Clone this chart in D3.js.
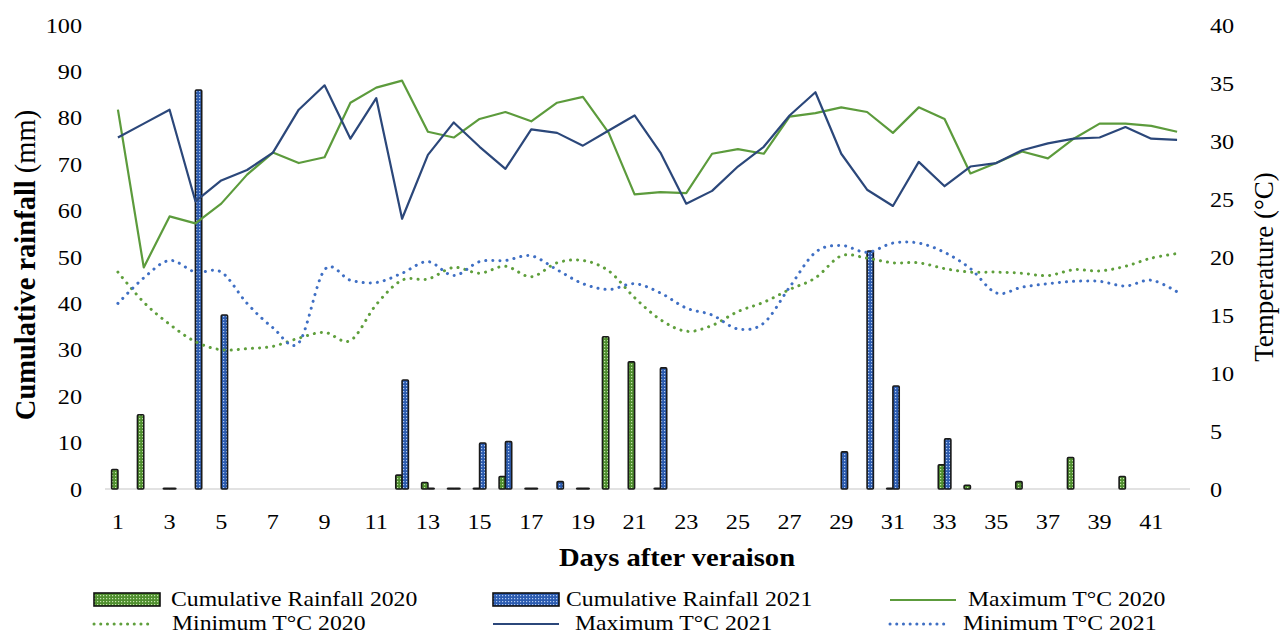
<!DOCTYPE html>
<html>
<head>
<meta charset="utf-8">
<script src="https://cdn.jsdelivr.net/npm/d3@7"></script>
<style>
  body { margin: 0; background: #fff; }
  svg text { font-family: "Liberation Serif", "Times New Roman", serif; fill: #000; }
  .wide-s { transform-box: fill-box; transform-origin: left center; transform: scaleX(1.1); }
  .wide-e { transform-box: fill-box; transform-origin: right center; transform: scaleX(1.1); }
  .wide-m { transform-box: fill-box; transform-origin: center; transform: scaleX(1.1); }
  .wide-l { transform-box: fill-box; transform-origin: left center; transform: scaleX(1.13); }
</style>
</head>
<body>
<svg id="chart" width="1283" height="635"></svg>
<script>
// Days after veraison
const days = [1,2,3,4,5,6,7,8,9,10,11,12,13,14,15,16,17,18,19,20,21,
              22,23,24,25,26,27,28,29,30,31,32,33,34,35,36,37,38,39,40,41,42];
const dayTicks = [1,3,5,7,9,11,13,15,17,19,21,23,25,27,29,31,33,35,37,39,41];

// Daily rainfall (mm); null = no record
const rain2020 = [4.2,16,0,null,null,null,null,null,null,null,null,3.0,1.4,0,0,2.7,0,null,0,32.8,27.4,
                  0,null,null,null,null,null,null,null,null,0,null,5.2,0.8,null,1.6,null,6.8,null,2.7,null,null];
const rain2021 = [null,null,0,86,37.5,null,null,null,null,null,null,23.5,0,0,9.9,10.2,0,1.6,0,null,null,
                  26.1,null,null,null,null,null,null,8.0,51.3,22.2,null,10.8,null,null,null,null,null,null,null,null,null];

// Daily temperatures (°C)
const tmax2020 = [32.7,19.1,23.5,22.9,24.6,27.1,29.0,28.1,28.6,33.3,34.6,35.2,30.8,30.3,31.9,32.5,31.7,33.3,33.8,30.7,25.4,
                  25.6,25.5,28.9,29.3,28.9,32.1,32.4,32.9,32.5,30.7,32.9,31.9,27.2,28.1,29.1,28.5,30.2,31.5,31.5,31.3,30.8];
const tmin2020 = [18.7,16.1,14.2,12.7,12.0,12.1,12.3,13.0,13.5,12.8,15.9,18.0,18.1,19.1,18.6,19.2,18.3,19.5,19.7,18.8,16.5,
                  14.6,13.6,14.1,15.3,16.1,17.2,18.2,20.1,19.9,19.5,19.5,19.0,18.7,18.7,18.6,18.4,18.9,18.8,19.2,19.9,20.3];
const tmax2021 = [30.3,31.5,32.7,24.8,26.6,27.5,29.0,32.7,34.8,30.2,33.7,23.3,28.8,31.6,29.5,27.6,31.0,30.7,29.6,30.9,32.2,
                  29.0,24.6,25.7,27.8,29.5,32.2,34.2,28.9,25.8,24.4,28.2,26.1,27.8,28.1,29.2,29.8,30.2,30.3,31.2,30.2,30.1];
const tmin2021 = [16.0,18.2,19.7,18.7,18.7,16.0,13.9,12.6,18.9,18.0,17.8,18.6,19.6,18.4,19.6,19.7,20.1,18.9,17.7,17.2,17.7,
                  16.9,15.6,15.0,13.8,14.3,17.4,20.4,21.0,20.4,21.2,21.2,20.4,19.0,16.9,17.4,17.7,17.9,17.9,17.5,18.0,17.0];

const rainTicks = [0,10,20,30,40,50,60,70,80,90,100];
const tempTicks = [0,5,10,15,20,25,30,35,40];

const svg = d3.select("#chart");

// Plot frame
const plotLeft = 105, plotRight = 1190, plotTop = 25, plotBottom = 489;

const x = d3.scaleBand().domain(days).range([plotLeft, plotRight]).padding(0);
const xs = d3.scaleBand().domain(["2020", "2021"]).range([0, x.bandwidth()])
  .paddingInner(0).paddingOuter(1.05);
const yR = d3.scaleLinear().domain([0, 100]).range([plotBottom, plotTop]);
const yT = d3.scaleLinear().domain([0, 40]).range([plotBottom, plotTop]);
const cx = d => x(d) + x.bandwidth() / 2;

// Dotted-grid fills for the rainfall bars
const defs = svg.append("defs");
function dotPattern(id, base, dot) {
  const p = defs.append("pattern").attr("id", id).attr("patternUnits", "userSpaceOnUse")
    .attr("width", 3).attr("height", 3);
  p.append("rect").attr("width", 3).attr("height", 3).attr("fill", base);
  p.append("rect").attr("x", 1).attr("y", 1).attr("width", 1.2).attr("height", 1.2).attr("fill", dot);
}
dotPattern("rain20", "#4f8f2f", "#c5e6ad");
dotPattern("rain21", "#2c5cb0", "#b3cbf2");

const green = "#5c9b3c", greenDot = "#5f9f3c", navy = "#2b477a", blueDot = "#3f6fc4";

// Category axis line
svg.append("line").attr("x1", plotLeft).attr("x2", plotRight).attr("y1", plotBottom).attr("y2", plotBottom)
  .attr("stroke", "#d9d9d9").attr("stroke-width", 1.5);

// Left axis (rainfall)
const gL = svg.append("g").attr("transform", `translate(90,0)`)
  .call(d3.axisLeft(yR).tickValues(rainTicks).tickSize(0).tickPadding(8));
gL.select(".domain").remove();
gL.selectAll("text").attr("font-size", 22).attr("class", "wide-e")
  .style("font-family", '"Liberation Serif", serif');

// Right axis (temperature)
const gR = svg.append("g").attr("transform", `translate(1200,0)`)
  .call(d3.axisRight(yT).tickValues(tempTicks).tickSize(0).tickPadding(10));
gR.select(".domain").remove();
gR.selectAll("text").attr("font-size", 22).attr("class", "wide-s")
  .style("font-family", '"Liberation Serif", serif');

// Bottom axis (days)
const gB = svg.append("g").attr("transform", `translate(0,${plotBottom})`)
  .call(d3.axisBottom(x).tickValues(dayTicks).tickSize(0).tickPadding(24));
gB.select(".domain").remove();
gB.selectAll("text").attr("font-size", 22).attr("class", "wide-m")
  .style("font-family", '"Liberation Serif", serif');

// Rainfall bars (zero readings show as a flat outlined stub on the axis)
const barSeries = [
  { key: "2020", values: rain2020, fill: "url(#rain20)" },
  { key: "2021", values: rain2021, fill: "url(#rain21)" }
];
barSeries.forEach(s => {
  svg.append("g").selectAll("rect")
    .data(days.map((d, i) => ({ day: d, v: s.values[i] })).filter(o => o.v !== null))
    .join("rect")
    .attr("x", o => x(o.day) + xs(s.key))
    .attr("y", o => Math.min(yR(o.v), yR(0) - 0.6))
    .attr("width", xs.bandwidth())
    .attr("height", o => Math.max(yR(0) - yR(o.v), 0.6))
    .attr("fill", s.fill)
    .attr("stroke", "#1a1a1a")
    .attr("stroke-width", 1.6)
    .attr("rx", 1);
});

// Temperature lines
const straight = d3.line().x((v, i) => cx(days[i])).y(v => yT(v));
const smooth = d3.line().x((v, i) => cx(days[i])).y(v => yT(v)).curve(d3.curveCatmullRom.alpha(0));

function dotted(sel, color) {
  return sel.attr("fill", "none").attr("stroke", color).attr("stroke-width", 3)
    .attr("stroke-linecap", "round").attr("stroke-dasharray", "0.1 7");
}
dotted(svg.append("path").attr("d", smooth(tmin2020)), greenDot);
dotted(svg.append("path").attr("d", smooth(tmin2021)), blueDot);
svg.append("path").attr("d", straight(tmax2020)).attr("fill", "none")
  .attr("stroke", green).attr("stroke-width", 2.2).attr("stroke-linejoin", "round");
svg.append("path").attr("d", straight(tmax2021)).attr("fill", "none")
  .attr("stroke", navy).attr("stroke-width", 2.2).attr("stroke-linejoin", "round");

// Axis titles
svg.append("text").attr("x", 677).attr("y", 566).attr("text-anchor", "middle")
  .attr("font-size", 26).attr("font-weight", "bold").attr("class", "wide-m")
  .text("Days after veraison");

const lt = svg.append("text").attr("transform", "translate(25,265) rotate(-90)")
  .attr("text-anchor", "middle").attr("dy", "0.35em").attr("font-size", 28.5);
lt.append("tspan").attr("font-weight", "bold").text("Cumulative rainfall ");
lt.append("tspan").text("(mm)");

svg.append("text").attr("transform", "translate(1264,267) rotate(-90)")
  .attr("text-anchor", "middle").attr("dy", "0.35em").attr("font-size", 27)
  .text("Temperature (°C)");

// Legend
const legend = [
  { type: "bar", fill: "url(#rain20)", x: 94, y: 600, tx: 171, label: "Cumulative Rainfall 2020" },
  { type: "bar", fill: "url(#rain21)", x: 493, y: 600, tx: 566, label: "Cumulative Rainfall 2021" },
  { type: "line", color: green, x: 890, y: 600, tx: 968, label: "Maximum T°C 2020" },
  { type: "dot", color: greenDot, x: 94, y: 624, tx: 172, label: "Minimum T°C 2020" },
  { type: "line", color: navy, x: 493, y: 624, tx: 575, label: "Maximum T°C 2021" },
  { type: "dot", color: blueDot, x: 890, y: 624, tx: 963, label: "Minimum T°C 2021" }
];
legend.forEach(e => {
  if (e.type === "bar") {
    svg.append("rect").attr("x", e.x).attr("y", e.y - 7).attr("width", 66).attr("height", 13)
      .attr("fill", e.fill).attr("stroke", "#111").attr("stroke-width", 1.6);
  } else if (e.type === "line") {
    svg.append("line").attr("x1", e.x).attr("x2", e.x + 66).attr("y1", e.y).attr("y2", e.y)
      .attr("stroke", e.color).attr("stroke-width", 2.2);
  } else {
    dotted(svg.append("line").attr("x1", e.x).attr("x2", e.x + 60).attr("y1", e.y).attr("y2", e.y), e.color)
      .attr("stroke-dasharray", "0.1 6.6");
  }
  svg.append("text").attr("x", e.tx).attr("y", e.y + 6.5).attr("font-size", 21)
    .attr("class", "wide-l").text(e.label);
});
</script>
</body>
</html>
